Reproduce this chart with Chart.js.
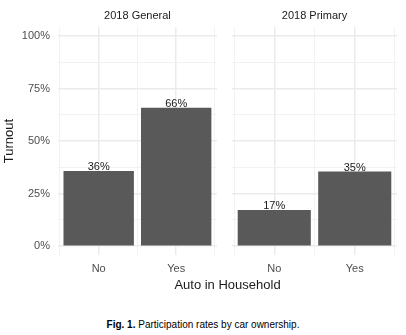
<!DOCTYPE html>
<html>
<head>
<meta charset="utf-8">
<script src="https://cdn.jsdelivr.net/npm/chart.js@4.4.1/dist/chart.umd.min.js"></script>
<style>
  html, body { margin: 0; padding: 0; background: #fff; }
  body {
    width: 406px; height: 335px; position: relative; overflow: hidden;
    font-family: "Liberation Sans", Arial, sans-serif;
  }
  #general { position: absolute; left: 0; top: 0; }
  #primary { position: absolute; left: 222px; top: 0; }
  .x-title {
    position: absolute; left: 58px; width: 339px; top: 277px;
    text-align: center; font-size: 13px; line-height: 16px; color: #1a1a1a;
  }
  .caption {
    position: absolute; left: 0; width: 406px; top: 319px;
    text-align: center; font-size: 10px; line-height: 12px; color: #000;
  }
</style>
</head>
<body>
<canvas id="general" width="222" height="280"></canvas>
<canvas id="primary" width="184" height="280"></canvas>
<div class="x-title">Auto in Household</div>
<div class="caption"><b>Fig. 1.</b> Participation rates by car ownership.</div>

<script>
// turnout share by whether the household owns a car
const categories = ["No", "Yes"];
const generalTurnout = [0.356, 0.657];
const primaryTurnout = [0.170, 0.354];
const panelTitles = ["2018 General", "2018 Primary"];

const yBreaks = [0, 0.25, 0.5, 0.75, 1];
const yMinorBreaks = [0.125, 0.375, 0.625, 0.875];
const yLabels = ["0%", "25%", "50%", "75%", "100%"];
const xMinorBreaks = [0.5, 1.5, 2.5];

Chart.defaults.font.family = '"Liberation Sans", Arial, sans-serif';

const pct = v => Math.round(v * 100) + "%";

// value labels sitting on top of each bar
const barLabels = {
  id: "barLabels",
  afterDatasetsDraw(chart) {
    const ctx = chart.ctx;
    const ds = chart.data.datasets[0];
    ctx.save();
    ctx.font = '11px "Liberation Sans", Arial, sans-serif';
    ctx.fillStyle = "#1a1a1a";
    ctx.textAlign = "center";
    ctx.textBaseline = "alphabetic";
    chart.getDatasetMeta(0).data.forEach((bar, i) => {
      ctx.fillText(pct(ds.data[i].y), bar.x, bar.y - 1);
    });
    ctx.restore();
  }
};

// major grid lines are a bit heavier than the minor ones
const isMajorX = c => c.tick && Number.isInteger(c.tick.value);
const isMajorY = c => c.tick && yBreaks.includes(c.tick.value);

function makePanel(canvasId, title, values, showY) {
  const majorX = categories.map((c, i) => i + 1);
  const xTicks = [...majorX, ...xMinorBreaks].sort((a, b) => a - b);
  const yTicks = [...yBreaks, ...yMinorBreaks].sort((a, b) => a - b);

  return new Chart(document.getElementById(canvasId), {
    type: "bar",
    data: {
      datasets: [{
        data: values.map((v, i) => ({ x: i + 1, y: v })),
        backgroundColor: "#595959",
        borderWidth: 0,
        barThickness: "flex",
        categoryPercentage: 1,
        barPercentage: 0.9
      }]
    },
    options: {
      responsive: false,
      animation: false,
      layout: { padding: showY ? { left: 0, right: 0 } : { left: 10, right: 9 } },
      plugins: {
        legend: { display: false },
        tooltip: { enabled: false },
        title: {
          display: true,
          text: title,
          fullSize: false,
          color: "#1a1a1a",
          font: { size: 11, weight: "normal" },
          padding: { top: 9, bottom: 5 }
        }
      },
      scales: {
        x: {
          type: "linear",
          offset: false,
          min: 0.475,
          max: 2.525,
          afterBuildTicks: axis => { axis.ticks = xTicks.map(v => ({ value: v })); },
          afterFit: axis => { axis.height = 25; },
          border: { display: false },
          grid: {
            offset: false,
            drawTicks: false,
            color: c => isMajorX(c) ? "#ebebeb" : "#f2f2f2",
            lineWidth: c => isMajorX(c) ? 1.5 : 1
          },
          ticks: {
            autoSkip: false,
            maxRotation: 0,
            padding: 7,
            color: "#4d4d4d",
            font: { size: 11 },
            callback: v => Number.isInteger(v) ? categories[v - 1] : ""
          }
        },
        y: {
          min: -0.043,
          max: 1.043,
          afterBuildTicks: axis => { axis.ticks = yTicks.map(v => ({ value: v })); },
          afterFit: axis => { axis.width = showY ? 58 : 0; },
          border: { display: false },
          grid: {
            drawTicks: false,
            color: c => isMajorY(c) ? "#ebebeb" : "#f2f2f2",
            lineWidth: c => isMajorY(c) ? 1.5 : 1
          },
          ticks: {
            display: showY,
            autoSkip: false,
            padding: 8,
            color: "#4d4d4d",
            font: { size: 11 },
            callback: v => {
              const k = yBreaks.indexOf(v);
              return k >= 0 ? yLabels[k] : "";
            }
          },
          title: {
            display: showY,
            text: "Turnout",
            color: "#1a1a1a",
            font: { size: 13 },
            padding: { top: 2, bottom: 0 }
          }
        }
      }
    },
    plugins: [barLabels]
  });
}

makePanel("general", panelTitles[0], generalTurnout, true);
makePanel("primary", panelTitles[1], primaryTurnout, false);
</script>
</body>
</html>
